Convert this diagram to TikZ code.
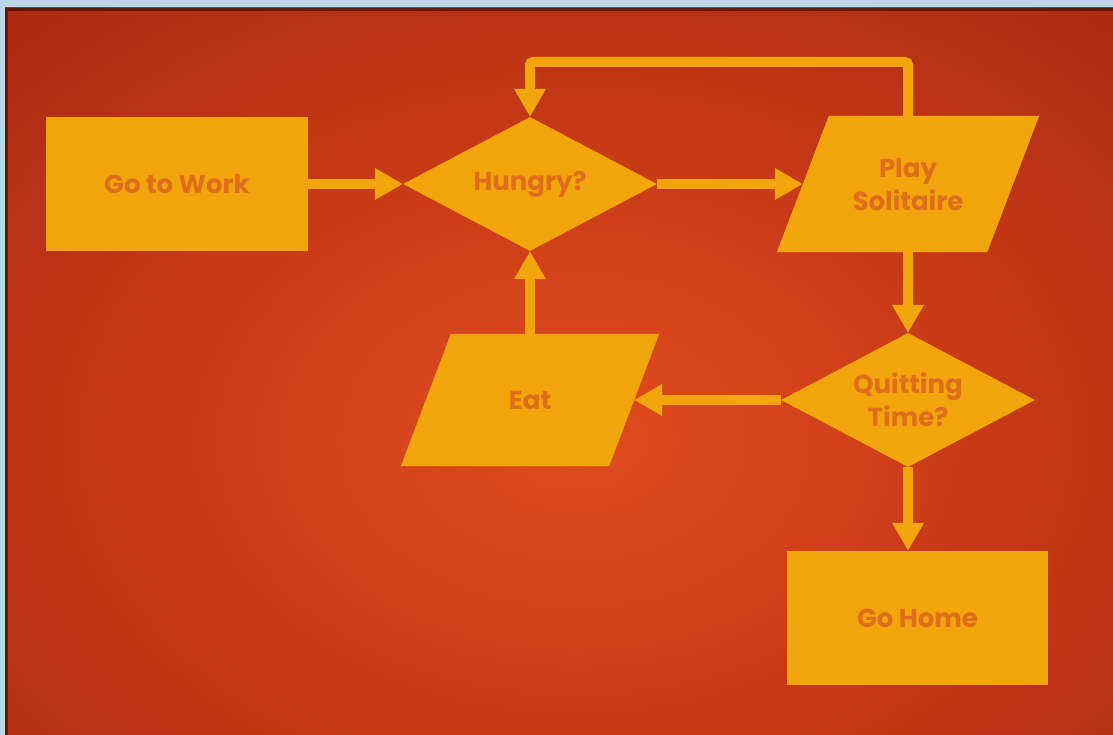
\documentclass[tikz,border=0pt]{standalone}
\usepackage{fontspec}
\setmainfont{Poppins}
\usetikzlibrary{arrows.meta,shapes.geometric,backgrounds}
\definecolor{framecol}{RGB}{184,216,232}
\definecolor{bgin}{RGB}{226,76,30}
\definecolor{bgmid}{RGB}{196,56,22}
\definecolor{bgout}{RGB}{150,32,14}
\definecolor{shapefill}{RGB}{242,166,12}
\definecolor{txt}{RGB}{224,108,28}
\pgfdeclareradialshading{bgshade}{\pgfpoint{0bp}{0bp}}{color(0bp)=(bgin); color(10bp)=(bgmid); color(25bp)=(bgout); color(50bp)=(bgout)}
\tikzset{
  lbl/.style={text=txt, font=\fontsize{26}{33}\selectfont\bfseries, align=center, inner sep=0pt},
  procbox/.style={lbl, rectangle, fill=shapefill, minimum width=262pt, minimum height=134pt},
  decision/.style={lbl, diamond, fill=shapefill, minimum width=254pt, minimum height=134pt, aspect=1.9},
  iobox/.style={lbl, rectangle, minimum width=208pt, minimum height=134pt},
  iofill/.style={fill=shapefill},
  arr/.style={draw=shapefill, line width=10pt, rounded corners=3pt, -{Triangle[width=30pt,length=28pt]}},
}
\begin{document}
\begin{tikzpicture}[x=1pt,y=-1pt]
\useasboundingbox (0,0) rectangle (1113,735);
\begin{scope}[on background layer]
  \fill[framecol] (0,0) rectangle (1113,735);
  \begin{scope}
    \clip (5,8) rectangle (1113,735);
    \fill[bgout] (5,8) rectangle (1113,735);
    \shade[shading=bgshade] (575,440) ellipse [x radius=1150pt, y radius=820pt];
  \end{scope}
  \fill[black, opacity=0.45] (5,8) rectangle (1113,11);
  \fill[black, opacity=0.45] (5,11) rectangle (8,735);
\end{scope}

\node[procbox] (work) at (177,184) {Go to Work};
\node[decision] (hungry) at (530,184) {Hungry?};
\node[iobox, minimum width=210pt, minimum height=136pt] (play) at (908,184) {Play\\Solitaire};
\node[decision] (quit) at (908,400) {Quitting\\Time?};
\node[iobox, minimum width=208pt, minimum height=132pt] (eat) at (530,400) {Eat};
\node[procbox, minimum width=261pt] (home) at (917.5,618) {Go Home};
\coordinate (loop) at (720,62);

\begin{scope}[on background layer]
  \fill[iofill] ([xshift=26pt]play.north west) -- ([xshift=26pt]play.north east)
     -- ([xshift=-26pt]play.south east) -- ([xshift=-26pt]play.south west) -- cycle;
  \fill[iofill] ([xshift=25pt]eat.north west) -- ([xshift=25pt]eat.north east)
     -- ([xshift=-25pt]eat.south east) -- ([xshift=-25pt]eat.south west) -- cycle;
\end{scope}

\draw[arr] (work.east) -- (hungry.west);
\draw[arr] (hungry.east) -- (play.west);
\draw[arr] (play.north) |- (loop) -| (hungry.north);
\draw[arr] (play.south) -- (quit.north);
\draw[arr] (quit.west) -- (eat.east);
\draw[arr] (eat.north) -- (hungry.south);
\draw[arr] (quit.south) -- (quit.south |- home.north);
\end{tikzpicture}
\end{document}
